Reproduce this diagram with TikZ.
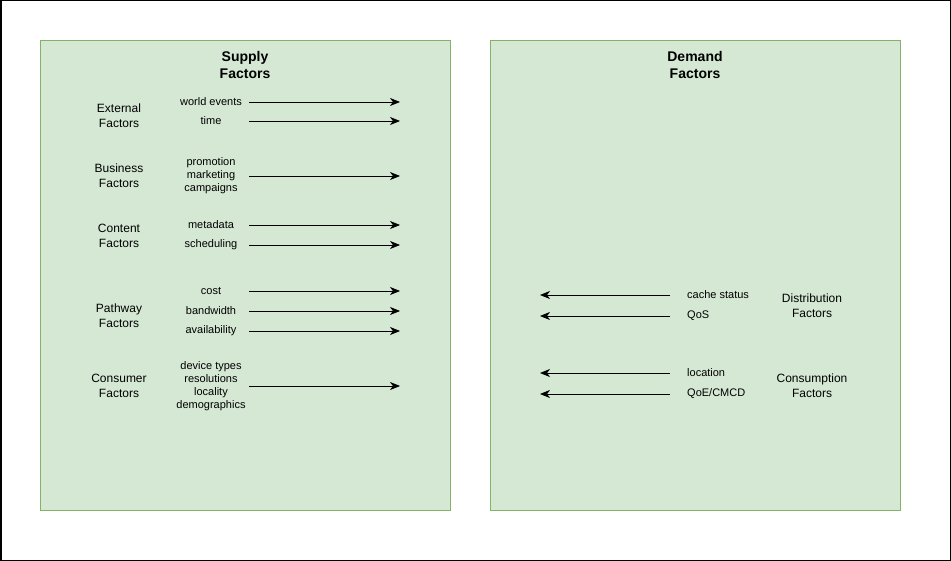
\documentclass[tikz,border=0pt]{standalone}
\usepackage{fontspec}
\setmainfont{Liberation Sans}
\usetikzlibrary{arrows.meta, positioning}
\definecolor{panelfill}{HTML}{D5E8D4}
\definecolor{panelline}{HTML}{82B366}

\begin{document}
\begin{tikzpicture}[x=1pt, y=-1pt,
    panel/.style={draw=panelline, fill=panelfill, line width=0.8pt},
    title/.style={font=\fontsize{14}{17}\selectfont\bfseries, align=center,
        inner sep=0pt},
    group/.style={font=\fontsize{12}{15}\selectfont, align=center,
        inner sep=0pt},
    item/.style={font=\fontsize{11}{13}\selectfont, align=center,
        inner sep=0pt},
    flow/.style={-{Stealth[length=10pt,width=8pt,inset=3pt]}, line width=0.8pt}]

    \useasboundingbox (0,0) rectangle (951,561);
    \draw[line width=1.5pt] (0.75,0.75) rectangle (950.25,560.25);

    % panels
    \draw[panel] (40,40) rectangle (450,510);
    \draw[panel] (490,40) rectangle (900,510);
    \node[title] (supply) at (245,64.5) {Supply\\Factors};
    \node[title] (demand) at (695,64.5) {Demand\\Factors};

    % supply side
    \node[group] (external) at (119,115.5) {External\\Factors};
    \node[group] (business) at (119,175.5) {Business\\Factors};
    \node[group] (content)  at (119,235.5) {Content\\Factors};
    \node[group] (pathway)  at (119,315.5) {Pathway\\Factors};
    \node[group] (consumer) at (119,385.5) {Consumer\\Factors};

    \node[item] (events)   at (211,102) {world events};
    \node[item] (time)     at (211,121) {time};
    \node[item] (promo)    at (211,176) {promotion\\marketing\\campaigns};
    \node[item] (meta)     at (211,225) {metadata};
    \node[item] (sched)    at (211,245) {scheduling};
    \node[item] (cost)     at (211,291) {cost};
    \node[item] (bw)       at (211,311) {bandwidth};
    \node[item] (avail)    at (211,331) {availability};
    \node[item] (devices)  at (211,386) {device types\\resolutions\\locality\\demographics};

    \coordinate (sup-from) at (249,0);
    \coordinate (sup-to)   at (400,0);

    \draw[flow] (events -| sup-from) -- (events -| sup-to);
    \draw[flow] (time -| sup-from) -- (time -| sup-to);
    \draw[flow] (promo -| sup-from) -- (promo -| sup-to);
    \draw[flow] (meta -| sup-from) -- (meta -| sup-to);
    \draw[flow] (sched -| sup-from) -- (sched -| sup-to);
    \draw[flow] (cost -| sup-from) -- (cost -| sup-to);
    \draw[flow] (bw -| sup-from) -- (bw -| sup-to);
    \draw[flow] (avail -| sup-from) -- (avail -| sup-to);
    \draw[flow] (devices -| sup-from) -- (devices -| sup-to);

    % demand side
    \node[group] (distribution) at (812,305.5) {Distribution\\Factors};
    \node[group] (consumption)  at (812,385.5) {Consumption\\Factors};

    \node[item, anchor=west] (cache)    at (687,295) {cache status};
    \node[item, anchor=west] (qos)      at (687,316) {QoS};
    \node[item, anchor=west] (location) at (687,373) {location};
    \node[item, anchor=west] (qoe)      at (687,394) {QoE/CMCD};

    \coordinate (dem-from) at (670,0);
    \coordinate (dem-to)   at (540,0);

    \draw[flow] (cache -| dem-from) -- (cache -| dem-to);
    \draw[flow] (qos -| dem-from) -- (qos -| dem-to);
    \draw[flow] (location -| dem-from) -- (location -| dem-to);
    \draw[flow] (qoe -| dem-from) -- (qoe -| dem-to);

\end{tikzpicture}
\end{document}
